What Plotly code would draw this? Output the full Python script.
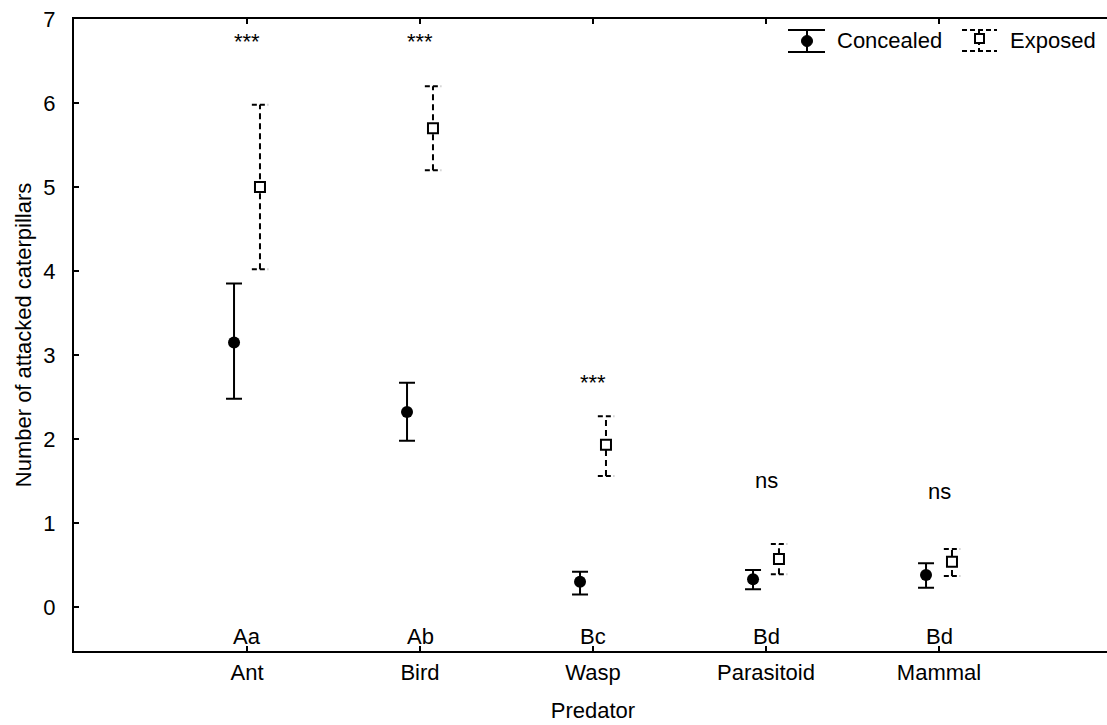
import plotly.graph_objects as go

# ---- data ----
categories = ["Ant", "Bird", "Wasp", "Parasitoid", "Mammal"]
concealed_mean = [3.15, 2.32, 0.30, 0.33, 0.38]
concealed_upper = [3.85, 2.67, 0.42, 0.44, 0.52]
concealed_lower = [2.48, 1.98, 0.15, 0.21, 0.23]
exposed_mean = [5.00, 5.70, 1.93, 0.57, 0.54]
exposed_upper = [5.98, 6.20, 2.27, 0.75, 0.69]
exposed_lower = [4.02, 5.20, 1.56, 0.39, 0.37]
signif_labels = ["***", "***", "***", "ns", "ns"]
signif_y = [6.73, 6.73, 2.67, 1.51, 1.37]
group_letters = ["Aa", "Ab", "Bc", "Bd", "Bd"]
letters_y = -0.35

# ---- layout constants ----
W, H = 1112, 725
ML, MR, MT, MB = 74, 0, 19, 74
OFFSET = 0.075
CAP = 0.047
FONT = "Liberation Sans, Arial, sans-serif"
FS = 22

xi = list(range(len(categories)))
xc = [i - OFFSET for i in xi]
xe = [i + OFFSET for i in xi]

fig = go.Figure()

# Concealed: solid error bars
fig.add_trace(go.Scatter(
    x=xc, y=concealed_mean, mode="markers", name="Concealed",
    marker=dict(symbol="circle", size=12, color="black"),
    error_y=dict(type="data", symmetric=False,
                 array=[u - m for u, m in zip(concealed_upper, concealed_mean)],
                 arrayminus=[m - l for m, l in zip(concealed_mean, concealed_lower)],
                 color="black", thickness=2, width=8),
    showlegend=False,
))

# Exposed: dashed error bars drawn as line traces
vx, vy, cx, cy = [], [], [], []
for x, lo, hi in zip(xe, exposed_lower, exposed_upper):
    vx += [x, x, None]
    vy += [lo, hi, None]
    cx += [x - CAP, x + CAP, None, x - CAP, x + CAP, None]
    cy += [lo, lo, None, hi, hi, None]
fig.add_trace(go.Scatter(x=vx, y=vy, mode="lines",
                         line=dict(color="black", width=2, dash="6px,4px"),
                         showlegend=False, hoverinfo="skip"))
fig.add_trace(go.Scatter(x=cx, y=cy, mode="lines",
                         line=dict(color="black", width=2, dash="5px,3px"),
                         showlegend=False, hoverinfo="skip"))
fig.add_trace(go.Scatter(
    x=xe, y=exposed_mean, mode="markers", name="Exposed",
    marker=dict(symbol="square", size=10, color="white",
                line=dict(color="black", width=2)),
    showlegend=False,
))

# annotations: significance and group letters
for i, (s, sy) in enumerate(zip(signif_labels, signif_y)):
    fig.add_annotation(x=i, y=sy, text=s, showarrow=False,
                       font=dict(family=FONT, size=FS, color="black"))
for i, g in enumerate(group_letters):
    fig.add_annotation(x=i, y=letters_y, text=g, showarrow=False,
                       font=dict(family=FONT, size=FS, color="black"))

# custom legend (paper coords)
PW = W - ML - MR
PH = H - MT - MB
def px(x):
    return (x - ML) / PW
def py(y):
    return (H - MB - y) / PH

shapes = []
# Concealed glyph
shapes.append(dict(type="line", xref="paper", yref="paper", x0=px(788), x1=px(825), y0=py(30), y1=py(30), line=dict(color="black", width=2)))
shapes.append(dict(type="line", xref="paper", yref="paper", x0=px(788), x1=px(825), y0=py(52), y1=py(52), line=dict(color="black", width=2)))
shapes.append(dict(type="line", xref="paper", yref="paper", x0=px(807), x1=px(807), y0=py(30), y1=py(52), line=dict(color="black", width=2)))
shapes.append(dict(type="circle", xref="paper", yref="paper", x0=px(801.5), x1=px(812.5), y0=py(35.5), y1=py(46.5), fillcolor="black", line=dict(color="black", width=1)))
# Exposed glyph
shapes.append(dict(type="line", xref="paper", yref="paper", x0=px(962), x1=px(997), y0=py(30), y1=py(30), line=dict(color="black", width=2, dash="5px,3px")))
shapes.append(dict(type="line", xref="paper", yref="paper", x0=px(962), x1=px(997), y0=py(51), y1=py(51), line=dict(color="black", width=2, dash="5px,3px")))
shapes.append(dict(type="line", xref="paper", yref="paper", x0=px(979), x1=px(979), y0=py(30), y1=py(51), line=dict(color="black", width=2, dash="3px,3px")))
shapes.append(dict(type="rect", xref="paper", yref="paper", x0=px(975), x1=px(984), y0=py(34), y1=py(43), fillcolor="white", line=dict(color="black", width=2)))
fig.update_layout(shapes=shapes)
fig.add_annotation(xref="paper", yref="paper", x=px(835), y=py(41), text="Concealed",
                   showarrow=False, xanchor="left", yanchor="middle",
                   font=dict(family=FONT, size=FS, color="black"))
fig.add_annotation(xref="paper", yref="paper", x=px(1008), y=py(41), text="Exposed",
                   showarrow=False, xanchor="left", yanchor="middle",
                   font=dict(family=FONT, size=FS, color="black"))

fig.update_layout(
    width=W, height=H,
    margin=dict(l=ML, r=MR, t=MT, b=MB, pad=0),
    paper_bgcolor="white", plot_bgcolor="white",
    font=dict(family=FONT, size=FS, color="black"),
    xaxis=dict(
        range=[-1, 5], tickmode="array", tickvals=xi, ticktext=categories,
        showgrid=False, zeroline=False, showline=True, linecolor="black", linewidth=2,
        mirror="ticks", ticks="inside", ticklen=5, tickwidth=1.5, tickcolor="black",
        ticklabelstandoff=1, automargin=False,
        title=dict(text="Predator", font=dict(family=FONT, size=FS), standoff=18),
    ),
    yaxis=dict(
        range=[-0.524, 7], tickmode="array", tickvals=list(range(0, 8)),
        showgrid=False, zeroline=False, showline=True, linecolor="black", linewidth=2,
        ticks="inside", ticklen=5, tickwidth=1.5, tickcolor="black",
        ticklabelstandoff=12, automargin=False,
        title=dict(text="Number of attacked caterpillars", font=dict(family=FONT, size=FS), standoff=6),
    ),
    showlegend=False,
)

fig.write_html("out.html", config={"displayModeBar": False},
               post_script="document.body.style.margin='0';document.body.style.overflow='hidden';")
